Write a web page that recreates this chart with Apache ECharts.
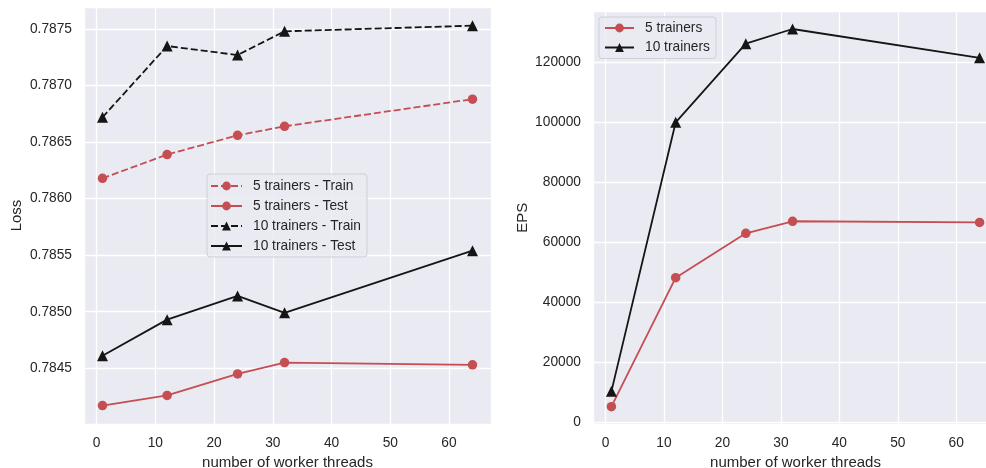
<!DOCTYPE html>
<html>
<head>
<meta charset="utf-8">
<script src="https://cdn.jsdelivr.net/npm/echarts@6/dist/echarts.min.js"></script>
<style>
html,body{margin:0;padding:0;background:#fff;}
#c{width:986px;height:468px;}
</style>
</head>
<body>
<div id="c"></div>
<script>
// ---- data ----
var threads = [1, 12, 24, 32, 64];
var loss5Train  = [0.78618, 0.78639, 0.78656, 0.78664, 0.78688];
var loss5Test   = [0.78417, 0.78426, 0.78445, 0.78455, 0.78453];
var loss10Train = [0.78672, 0.78735, 0.78727, 0.78748, 0.78753];
var loss10Test  = [0.78461, 0.78493, 0.78514, 0.78499, 0.78554];
var eps5  = [5200, 48200, 63000, 67000, 66600];
var eps10 = [10300, 100000, 126200, 131100, 121500];
var lossLegend = ['5 trainers - Train', '5 trainers - Test', '10 trainers - Train', '10 trainers - Test'];
var epsLegend = ['5 trainers', '10 trainers'];

function pairs(xs, ys) { return xs.map(function (x, i) { return [x, ys[i]]; }); }

var RED = '#C44E52', BLK = '#151515', TXT = '#262626', BG = '#EAEAF2';
var FONT = 'Liberation Sans, Arial, sans-serif';

function mkSeries(name, data, color, dashed, symbol, xi, yi, size) {
  return {
    name: name, type: 'line', xAxisIndex: xi, yAxisIndex: yi,
    data: data, symbol: symbol, symbolSize: size, showSymbol: true,
    lineStyle: { color: color, width: 1.8, type: dashed ? [7, 3] : 'solid' },
    itemStyle: { color: color, borderWidth: 0 },
    emphasis: { disabled: true }, animation: false, z: 3
  };
}

var tri = 'path://M0,-1L1,0.8L-1,0.8Z';

var xAxisCommon = {
  type: 'value', min: -2.15, max: 67.15, minInterval: 10, maxInterval: 10,
  axisLine: { show: false }, axisTick: { show: false },
  axisLabel: { color: TXT, fontSize: 13.75, fontFamily: FONT, margin: 12, showMinLabel: false, showMaxLabel: false },
  splitLine: { lineStyle: { color: '#ffffff', width: 1.3 } },
  name: 'number of worker threads', nameLocation: 'middle', nameGap: 29,
  nameTextStyle: { color: TXT, fontSize: 15, fontFamily: FONT }
};

var legendCommon = {
  orient: 'vertical', itemGap: 6, itemHeight: 11,
  backgroundColor: 'rgba(234,234,242,0.8)', borderColor: '#cfcfd6', borderWidth: 1, borderRadius: 3,
  textStyle: { color: TXT, fontSize: 13.75, fontFamily: FONT, padding: [0, 0, 0, 6], lineHeight: 14 },
  selectedMode: false
};

var option = {
  backgroundColor: '#ffffff',
  animation: false,
  grid: [
    { left: 84, top: 7, width: 407, height: 417, show: true, backgroundColor: BG, borderWidth: 0, outerBoundsMode: 'none', containLabel: false },
    { left: 593, top: 11, width: 405, height: 413.5, show: true, backgroundColor: BG, borderWidth: 0, outerBoundsMode: 'none', containLabel: false }
  ],
  xAxis: [
    Object.assign({}, xAxisCommon, { gridIndex: 0 }),
    Object.assign({}, xAxisCommon, { gridIndex: 1 })
  ],
  yAxis: [
    {
      gridIndex: 0, type: 'value', min: 0.784007, max: 0.787695, minInterval: 0.0005, maxInterval: 0.0005,
      axisLine: { show: false }, axisTick: { show: false },
      axisLabel: { color: TXT, fontSize: 13.75, fontFamily: FONT, margin: 12, showMinLabel: false, showMaxLabel: false,
        formatter: function (v) { return v.toFixed(4); } },
      splitLine: { lineStyle: { color: '#ffffff', width: 1.3 } },
      name: 'Loss', nameLocation: 'middle', nameGap: 60, nameRotate: 90,
      nameTextStyle: { color: TXT, fontSize: 15, fontFamily: FONT }
    },
    {
      gridIndex: 1, type: 'value', min: -750, max: 137100, minInterval: 20000, maxInterval: 20000,
      axisLine: { show: false }, axisTick: { show: false },
      axisLabel: { color: TXT, fontSize: 13.75, fontFamily: FONT, margin: 12, showMinLabel: false, showMaxLabel: false,
        formatter: function (v) { return String(Math.round(v)); } },
      splitLine: { lineStyle: { color: '#ffffff', width: 1.3 } },
      name: 'EPS', nameLocation: 'middle', nameGap: 63, nameRotate: 90,
      nameTextStyle: { color: TXT, fontSize: 15, fontFamily: FONT }
    }
  ],
  legend: [
    Object.assign({}, legendCommon, {
      data: lossLegend, left: 207, top: 174, padding: [5, 6, 4, 3], itemWidth: 31
    }),
    Object.assign({}, legendCommon, {
      data: epsLegend, left: 599, top: 17, padding: [4, 6, 4, 5], itemGap: 5.5, itemWidth: 29
    })
  ],
  series: [
    mkSeries(lossLegend[0], pairs(threads, loss5Train), RED, true, 'circle', 0, 0, 9.5),
    mkSeries(lossLegend[1], pairs(threads, loss5Test), RED, false, 'circle', 0, 0, 9.5),
    mkSeries(lossLegend[2], pairs(threads, loss10Train), BLK, true, tri, 0, 0, 11),
    mkSeries(lossLegend[3], pairs(threads, loss10Test), BLK, false, tri, 0, 0, 11),
    mkSeries(epsLegend[0], pairs(threads, eps5), RED, false, 'circle', 1, 1, 9.5),
    mkSeries(epsLegend[1], pairs(threads, eps10), BLK, false, tri, 1, 1, 11)
  ]
};

var chart = echarts.init(document.getElementById('c'), null, { renderer: 'canvas' });
chart.setOption(option);
</script>
</body>
</html>
